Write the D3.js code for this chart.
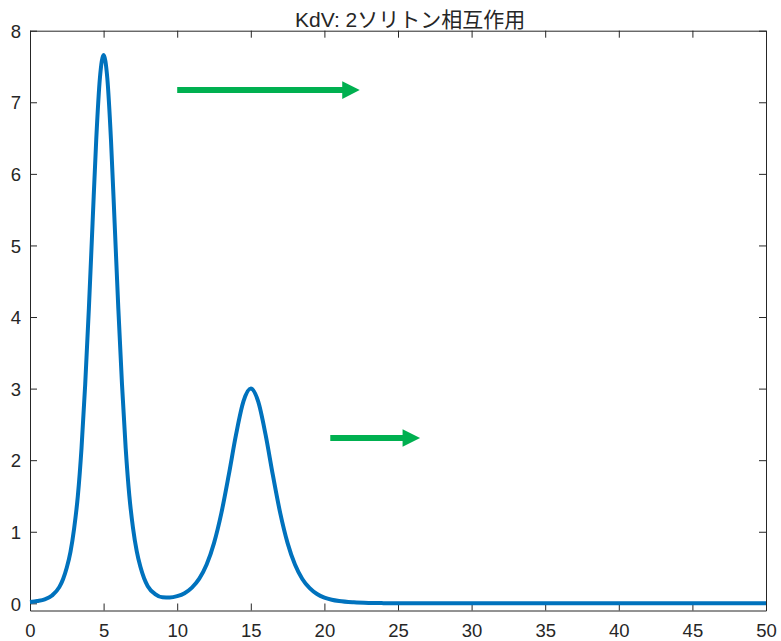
<!DOCTYPE html>
<html>
<head>
<meta charset="utf-8">
<script src="https://cdn.jsdelivr.net/npm/d3@7"></script>
<style>
  html, body { margin: 0; padding: 0; background: #ffffff; }
  svg { display: block; }
  text { font-family: "Liberation Sans", Arial, "Noto Sans CJK JP", sans-serif; fill: #262626; }
</style>
</head>
<body>
<svg id="chart" width="781" height="641"></svg>
<script>
// Wave profile u(x) sampled along the domain
const xs = [0, 0.5, 1.0, 1.5, 2.0, 2.25, 2.5, 2.75, 3.0, 3.25, 3.5, 3.75, 4.0, 4.25, 4.5, 4.75,
            5.0, 5.25, 5.5, 5.75, 6.0, 6.25, 6.5, 6.75, 7.0, 7.25, 7.5, 7.75, 8.0, 8.5, 9.0, 9.5,
            10.0, 10.5, 11.0, 11.5, 12.0, 12.5, 13.0, 13.5, 14.0, 14.5, 15.0, 15.5, 16.0, 16.5,
            17.0, 17.5, 18.0, 18.5, 19.0, 19.5, 20.0, 20.5, 21.0, 22.0, 23.0, 24.0, 26.0, 30.0,
            35.0, 40.0, 45.0, 50.0];
const us = [0.02, 0.033, 0.055, 0.11, 0.23, 0.34, 0.50, 0.72, 1.05, 1.50, 2.17, 3.06, 4.12, 5.31, 6.48, 7.34,
            7.66, 7.34, 6.48, 5.31, 4.12, 3.06, 2.17, 1.50, 1.05, 0.73, 0.51, 0.35, 0.24, 0.13, 0.085, 0.082,
            0.10, 0.142, 0.22, 0.345, 0.542, 0.841, 1.26, 1.79, 2.36, 2.82, 3.00, 2.82, 2.36, 1.79,
            1.26, 0.841, 0.542, 0.341, 0.212, 0.130, 0.080, 0.050, 0.032, 0.014, 0.006, 0.003, 0.001, 0,
            0, 0, 0, 0];

// Direction-of-travel arrows (start x, end x, height)
const arrowX0 = [10.0, 20.4];
const arrowX1 = [22.4, 26.5];
const arrowY  = [7.17, 2.31];

const xTicks = [0, 5, 10, 15, 20, 25, 30, 35, 40, 45, 50];
const yTicks = [0, 1, 2, 3, 4, 5, 6, 7, 8];
const titleText = "KdV: 2ソリトン相互作用";

const svg = d3.select("#chart");
const L = 30, R = 766, T = 30.7, B = 610.5;

const x = d3.scaleLinear().domain([0, 50]).range([L, R]);
const y = d3.scaleLinear().domain([-0.1, 8]).range([B, T]);

const axisColor = "#262626";
const tickLen = 7;

// Axes with inward ticks on all four sides (box on)
const gx = svg.append("g").attr("transform", `translate(0,${B})`)
  .call(d3.axisBottom(x).tickValues(xTicks).tickSizeInner(-tickLen).tickSizeOuter(0).tickPadding(13));
const gxTop = svg.append("g").attr("transform", `translate(0,${T})`)
  .call(d3.axisTop(x).tickValues(xTicks).tickSizeInner(-tickLen).tickSizeOuter(0).tickFormat(""));
const gy = svg.append("g").attr("transform", `translate(${L},0)`)
  .call(d3.axisLeft(y).tickValues(yTicks).tickSizeInner(-tickLen).tickSizeOuter(0).tickPadding(9));
const gyRight = svg.append("g").attr("transform", `translate(${R},0)`)
  .call(d3.axisRight(y).tickValues(yTicks).tickSizeInner(-tickLen).tickSizeOuter(0).tickFormat(""));

[gx, gxTop, gy, gyRight].forEach(g => {
  g.selectAll("path.domain").attr("stroke", axisColor).attr("stroke-width", 1);
  g.selectAll(".tick line").attr("stroke", axisColor).attr("stroke-width", 1);
  g.selectAll(".tick text")
    .attr("fill", axisColor)
    .style("font-size", "18.5px")
    .style("font-family", "'Liberation Sans', Arial, sans-serif");
});
gy.selectAll(".tick text").attr("dy", "0.36em");

// Wave curve
const pts = xs.map((d, i) => [d, us[i]]);
const line = d3.line()
  .x(d => x(d[0]))
  .y(d => y(d[1]))
  .curve(d3.curveMonotoneX);

svg.append("path")
  .datum(pts)
  .attr("fill", "none")
  .attr("stroke", "#0072BD")
  .attr("stroke-width", 4)
  .attr("stroke-linejoin", "round")
  .attr("d", line);

// Arrows
const green = "#00B050";
const headLen = 17.5, headHalf = 8.8, shaftHalf = 3;
arrowX0.forEach((x0, i) => {
  const sx = x(x0), ex = x(arrowX1[i]), cy = y(arrowY[i]);
  const bx = ex - headLen;
  const p = d3.path();
  p.moveTo(sx, cy - shaftHalf);
  p.lineTo(bx, cy - shaftHalf);
  p.lineTo(bx, cy - headHalf);
  p.lineTo(ex, cy);
  p.lineTo(bx, cy + headHalf);
  p.lineTo(bx, cy + shaftHalf);
  p.lineTo(sx, cy + shaftHalf);
  p.closePath();
  svg.append("path").attr("d", p.toString()).attr("fill", green);
});

// Title
svg.append("text")
  .attr("x", 295)
  .attr("y", 27)
  .attr("text-anchor", "start")
  .style("font-size", "21px")
  .style("font-family", "'Liberation Sans', Arial, 'Noto Sans CJK JP', sans-serif")
  .attr("fill", "#000000")
  .text(titleText);
</script>
</body>
</html>
